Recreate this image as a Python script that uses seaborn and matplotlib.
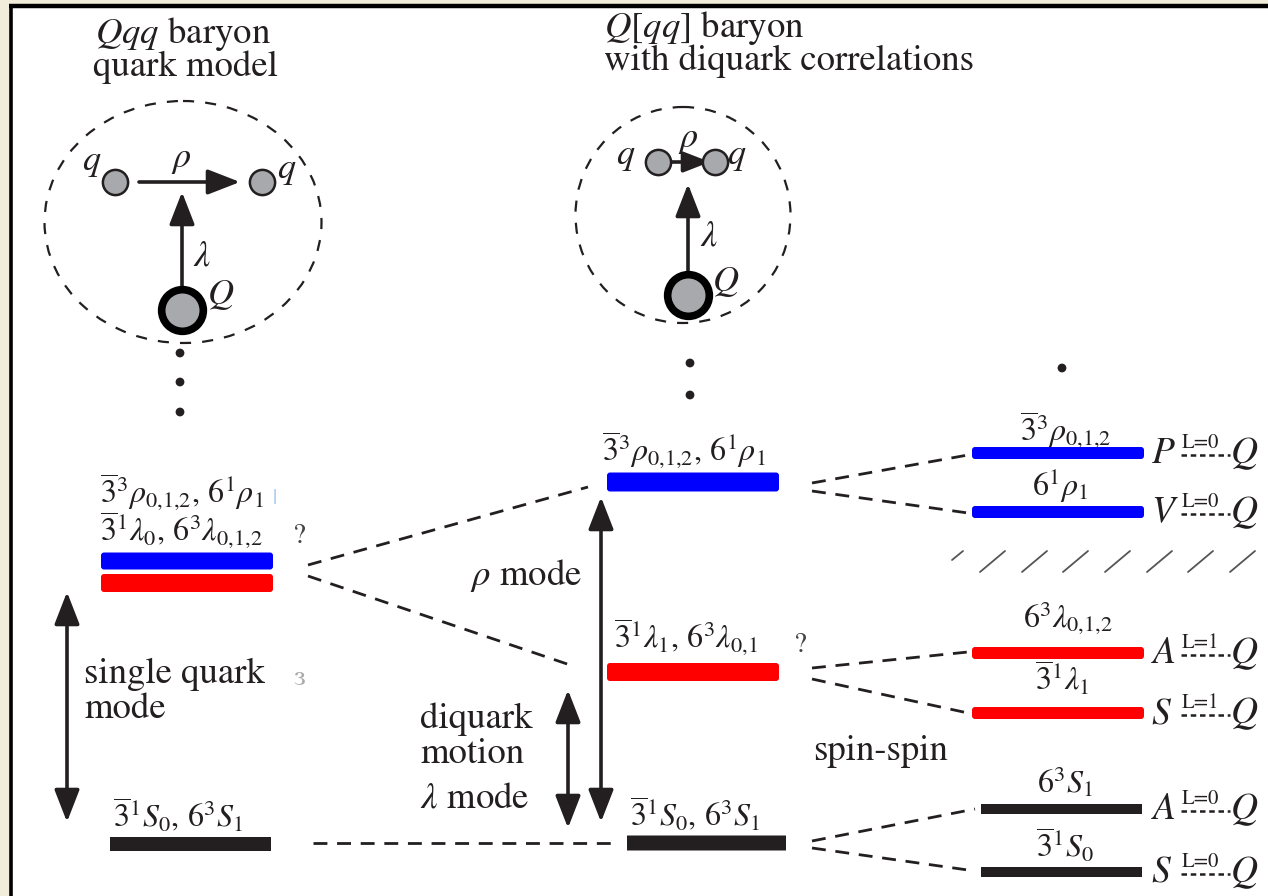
import numpy as np
import pandas as pd
import matplotlib
matplotlib.use("Agg")
import matplotlib.pyplot as plt
import seaborn as sns
from matplotlib.patches import FancyBboxPatch, Ellipse, Rectangle

sns.set_theme(style="white")
plt.rcParams['font.family'] = ['STIXGeneral', 'Liberation Serif', 'DejaVu Serif']
plt.rcParams['mathtext.fontset'] = 'stix'

INK = '#231f20'
BLUE = '#0000ff'
RED = '#ff0000'
GREY = '#a7a9ac'

# ---------------- data ----------------
# titles of the two pictures
title_lines_left = [r"$Qqq$ baryon", "quark model"]
title_lines_center = [r"$Q[qq]$ baryon", "with diquark correlations"]

# level scheme: vertical level position (figure rows, top = high energy)
left_labels = [r"$\overline{3}^3\rho_{0{,}1{,}2},\, 6^1\rho_1$",
               r"$\overline{3}^1\lambda_0,\, 6^3\lambda_{0{,}1{,}2}$",
               r"$\overline{3}^1S_0,\, 6^3S_1$"]
left_levels = [561, 583, 844]
left_colors = [BLUE, RED, INK]

center_labels = [r"$\overline{3}^3\rho_{0{,}1{,}2},\, 6^1\rho_1$",
                 r"$\overline{3}^1\lambda_1,\, 6^3\lambda_{0{,}1}$",
                 r"$\overline{3}^1S_0,\, 6^3S_1$"]
center_levels = [482, 672, 843]
center_colors = [BLUE, RED, INK]

right_labels = [r"$\overline{3}^3\rho_{0{,}1{,}2}$", r"$6^1\rho_1$",
                r"$6^3\lambda_{0{,}1{,}2}$", r"$\overline{3}^1\lambda_1$",
                r"$6^3S_1$", r"$\overline{3}^1S_0$"]
right_levels = [453, 512, 653, 713, 809, 872]
right_colors = [BLUE, BLUE, RED, RED, INK, INK]
right_diquark = ["P", "V", "A", "S", "A", "S"]
right_L = ["L=0", "L=0", "L=1", "L=1", "L=0", "L=0"]

# ---------------- figure ----------------
W, H = 1268, 896
fig = plt.figure(figsize=(W / 100, H / 100), dpi=100)
fig.patch.set_facecolor('#f2ecda')
ax = fig.add_axes([0, 0, 1, 1])
ax.set_xlim(0, W)
ax.set_ylim(H, 0)
ax.axis('off')

# white panel with black frame on top/left
ax.add_patch(Rectangle((11, 6), W, H, facecolor='white', edgecolor='none', zorder=0))
ax.plot([9, W], [6, 6], color='black', lw=3.2, solid_capstyle='butt', zorder=1)
ax.plot([10.5, 10.5], [4.5, H], color='black', lw=2.6, solid_capstyle='butt', zorder=1)

# titles
TFS = 26.5
ax.text(95, 43, title_lines_left[0], fontsize=TFS, color=INK, va='baseline')
ax.text(93, 76, title_lines_left[1], fontsize=TFS, color=INK, va='baseline')
ax.text(604, 37, title_lines_center[0], fontsize=TFS, color=INK, va='baseline')
ax.text(604, 70, title_lines_center[1], fontsize=TFS, color=INK, va='baseline')

# dashed "baryon" outlines
ax.add_patch(Ellipse((183, 222), 277, 242, fill=False, ec=INK, lw=1.6, ls=(0, (5, 5))))
ax.add_patch(Ellipse((683, 215), 215, 216, fill=False, ec=INK, lw=1.6, ls=(0, (5, 5))))

def arrow(x0, y0, x1, y1, both=False, hl=0.9, hw=0.35, lw=2.6, ms=22):
    style = ("<|-|>" if both else "-|>") + f",head_length={hl},head_width={hw}"
    ax.annotate("", xy=(x1, y1), xytext=(x0, y0),
                arrowprops=dict(arrowstyle=style, color=INK, lw=lw,
                                shrinkA=0, shrinkB=0, mutation_scale=ms))

# Jacobi coordinates
arrow(139, 182, 240, 182)
arrow(182, 290, 182, 192)
arrow(660, 162, 710, 162, ms=18)
arrow(688, 274, 688, 184)

# quark balls (seaborn scatter)
quarks = pd.DataFrame({"x": [115, 262, 658, 715], "y": [182, 182, 162, 162]})
sns.scatterplot(data=quarks, x="x", y="y", ax=ax, s=330, color=GREY,
                edgecolor=INK, linewidth=1.8, zorder=5, legend=False)
heavy = pd.DataFrame({"x": [182, 688], "y": [310, 295]})
sns.scatterplot(data=heavy, x="x", y="y", ax=ax, s=900, color=GREY,
                edgecolor='black', linewidth=5.5, zorder=5, legend=False)

# quark labels
QFS = 26
for (x, y, t) in [(82, 170, "q"), (277, 178, "q"), (616, 164, "q"), (727, 164, "q"),
                  (207, 304, "Q"), (712, 291, "Q")]:
    ax.text(x, y, f"${t}$", fontsize=QFS, color=INK, va='baseline')
ax.text(171, 167, r"$\rho$", fontsize=QFS, color=INK, va='baseline')
ax.text(678, 147, r"$\rho$", fontsize=QFS, color=INK, va='baseline')
ax.text(193, 266, r"$\lambda$", fontsize=QFS, color=INK, va='baseline')
ax.text(700, 245, r"$\lambda$", fontsize=QFS, color=INK, va='baseline')

# ellipsis dots
dots = pd.DataFrame({"x": [180, 180, 180, 690, 690, 1062],
                     "y": [353, 382, 412, 363, 395, 368]})
sns.scatterplot(data=dots, x="x", y="y", ax=ax, s=40, color=INK,
                edgecolor='none', zorder=5, legend=False)

# energy levels
def bars(xs, ys, colors, heights, rounded):
    for y, c, h, r in zip(ys, colors, heights, rounded):
        ax.add_patch(FancyBboxPatch((xs[0], y - h / 2), xs[1] - xs[0], h,
                                    boxstyle=f"round,pad=0,rounding_size={3 if r else 0.1}",
                                    fc=c, ec='none', zorder=4))

bars((101, 273), left_levels[:2], left_colors[:2], [17, 18], [True, True])
bars((110, 271), left_levels[2:], left_colors[2:], [14], [False])
bars((607, 779), center_levels[:2], center_colors[:2], [19, 18], [True, True])
bars((627, 786), center_levels[2:], center_colors[2:], [15], [False])
bars((972, 1144), right_levels[:4], right_colors[:4], [12, 12, 12, 12], [True] * 4)
bars((981, 1142), right_levels[4:], right_colors[4:], [10, 10], [False, False])

# level labels
LFS = 23
ax.text(100, 503, left_labels[0], fontsize=LFS, color=INK, va='baseline')
ax.text(100, 541, left_labels[1], fontsize=LFS, color=INK, va='baseline')
ax.text(113, 826, left_labels[2], fontsize=LFS, color=INK, va='baseline')
ax.text(602, 461, center_labels[0], fontsize=LFS, color=INK, va='baseline')
ax.text(614, 648, center_labels[1], fontsize=LFS, color=INK, va='baseline')
ax.text(630, 825, center_labels[2], fontsize=LFS, color=INK, va='baseline')
for lab, y, xc, dy in zip(right_labels, right_levels,
                          [1066, 1060, 1068, 1062, 1065, 1065],
                          [12, 16, 25, 22, 16, 14]):
    ax.text(xc, y - dy, lab, fontsize=LFS, color=INK, va='baseline', ha='center')

# faint remnants of cropped glyphs
ax.text(273, 504, "|", fontsize=15, color='#9cc3ea', va='baseline')
ax.text(293, 543, "?", fontsize=21, color='#444444', va='baseline')
ax.text(794, 652, "?", fontsize=21, color='#444444', va='baseline')
ax.text(293, 685, "ɜ", fontsize=20, color='#aaaaaa', va='baseline')

# diquark classification labels with dashed link
for y, d, L in zip(right_levels, right_diquark, right_L):
    ax.text(1151, y + 10, f"${d}$", fontsize=27, color=INK, va='baseline')
    ax.text(1182, y - 5, L, fontsize=15, color=INK, va='baseline')
    ax.plot([1181, 1230], [y + 2, y + 2], color=INK, lw=1.8, ls=(0, (2.2, 1.5)))
    ax.text(1230, y + 10, "$Q$", fontsize=27, color=INK, va='baseline')

# dashed correlation lines
dash = dict(color=INK, lw=2.0, ls=(0, (5, 3.5)), zorder=3)
ax.plot([313, 612], [843, 843], **dash)
ax.plot([308, 588], [565, 487], **dash)
ax.plot([308, 576], [576, 667], **dash)
ax.plot([812, 968], [483, 455], **dash)
ax.plot([812, 968], [491, 513], **dash)
ax.plot([812, 968], [668, 652], **dash)
ax.plot([812, 968], [679, 713], **dash)
ax.plot([812, 975], [841, 809], **dash)
ax.plot([812, 975], [848, 871], **dash)

# mode arrows
arrow(67, 592, 67, 822, both=True)
arrow(601, 497, 601, 822, both=True)
arrow(568, 690, 568, 828, both=True)

# mode texts
MFS = 26.5
ax.text(84, 683, "single quark", fontsize=MFS, color=INK, va='baseline')
ax.text(84, 718, "mode", fontsize=MFS, color=INK, va='baseline')
ax.text(470, 585, r"$\rho$ mode", fontsize=MFS, color=INK, va='baseline')
ax.text(420, 728, "diquark", fontsize=MFS, color=INK, va='baseline')
ax.text(420, 763, "motion", fontsize=MFS, color=INK, va='baseline')
ax.text(420, 808, r"$\lambda$ mode", fontsize=MFS, color=INK, va='baseline')
ax.text(813, 760, "spin-spin", fontsize=MFS, color=INK, va='baseline')

# hatched separator between rho and lambda excitations
hatch_x = [952, 980, 1022, 1063, 1105, 1147, 1188, 1230]
for i, x in enumerate(hatch_x):
    if i == 0:
        ax.plot([x, x + 11], [560, 551], color='#555555', lw=1.3)
    else:
        ax.plot([x, x + 25], [572, 551], color='#555555', lw=1.3)

fig.savefig("out.png", dpi=100, facecolor=fig.get_facecolor())
